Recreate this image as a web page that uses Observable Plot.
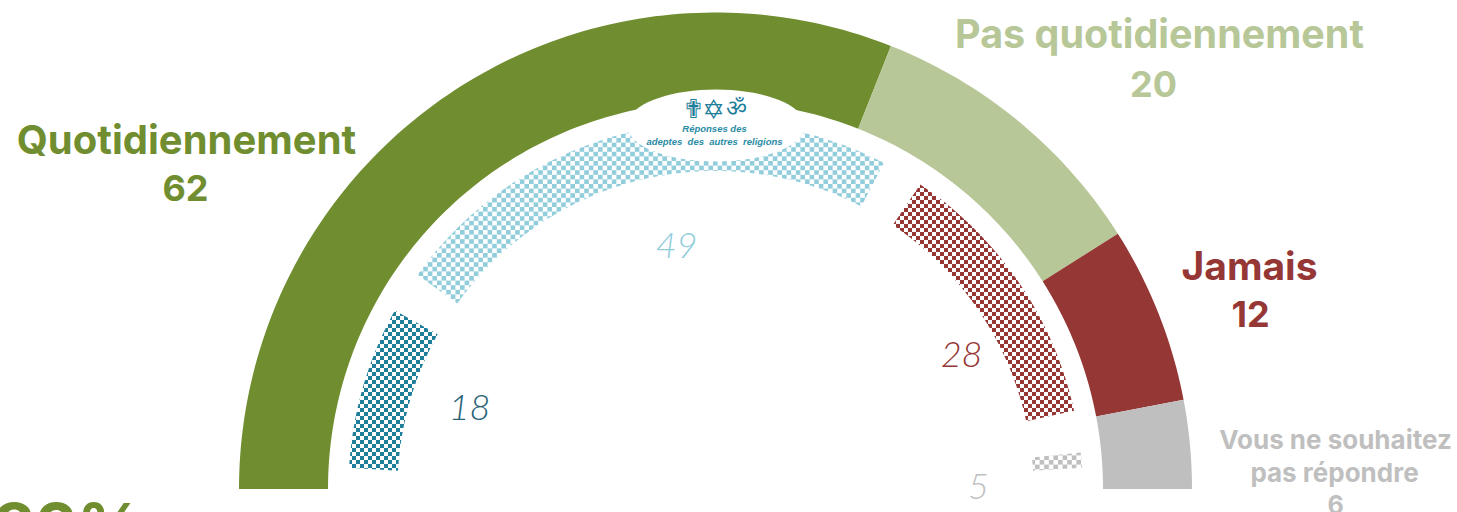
<!DOCTYPE html>
<html><head><meta charset="utf-8">
<script src="https://cdn.jsdelivr.net/npm/d3@7"></script>
<script src="https://cdn.jsdelivr.net/npm/@observablehq/plot@0.6"></script>
<style>html,body{margin:0;padding:0;background:#fff;overflow:hidden}svg{display:block}</style>
</head><body><div id="chart"></div>
<script>
const mainCategories = ["Quotidiennement","Pas quotidiennement","Jamais","Vous ne souhaitez pas répondre"];
const mainValues = [62,20,12,6];
const otherCategories = ["Quotidiennement (autres)","Pas quotidiennement (autres)","Jamais (autres)","Sans réponse (autres)"];
const otherValues = [18,49,28,5];
const mainColors = ["#708E30","#B7C797","#953735","#BFBFBF"];
const otherColors = ["url(#p0)","url(#p1)","url(#p2)","url(#p3)"];
const patternColors = ["#1F7F9B","#92CDDC","#953735","#BFBFBF"];

const W=1457,H=512;
function sectors(cats,vals,r0,r1,padDeg){
  const out=[];let cum=0;const total=d3.sum(vals);
  vals.forEach((v,i)=>{
    const a0=cum/total*180+padDeg,a1=(cum+v)/total*180-padDeg;cum+=v;
    const n=Math.max(8,Math.ceil(a1-a0));
    d3.range(n+1).forEach(k=>{
      const t=(a0+(a1-a0)*k/n)*Math.PI/180;
      out.push({cat:cats[i],x1:-r0*Math.cos(t),y1:r0*Math.sin(t),x2:-r1*Math.cos(t),y2:r1*Math.sin(t)});
    });
  });
  return out;
}
// unit ring: outer radius = 1
const outerRing=sectors(mainCategories,mainValues,387.5/476.5,1,0);
const innerRing=sectors(otherCategories,otherValues,318/476.5,367/476.5,3.3);
const ellipse=d3.range(73).map(k=>{const t=k*5*Math.PI/180;return {x:(89*Math.cos(t))/476.5,y:(364+36*Math.sin(t))/476.5};});

const G="Inter, sans-serif";
const label=(t,x,y,size,fill,o={})=>Plot.text([t],{text:d=>d,frameAnchor:"top-left",dx:x,dy:y,fontSize:size,fill,fontFamily:G,fontWeight:700,textAnchor:"middle",lineAnchor:"middle",...o});
const num=(t,x,y,fill)=>label(t,x,y,36,fill,{fontFamily:"Lato, sans-serif",fontWeight:300,fontStyle:"italic"});
const small=(t,x,y,o={})=>label(t,x,y,9.5,"#2A8BA5",{fontFamily:"Liberation Sans",fontStyle:"italic",...o});
const glyph=(t,x,y,size)=>label(t,x,y,size,patternColors[0],{fontFamily:"DejaVu Sans",fontWeight:400});

const chart=Plot.plot({
  width:W,height:H,margin:0,marginLeft:0,marginRight:0,marginTop:0,marginBottom:0,
  style:{background:"#fff"},
  x:{axis:null,domain:[-715.5/476.5,(W-715.5)/476.5],range:[0,W]},
  y:{axis:null,domain:[-(H-489)/476.5,489/476.5],range:[H,0]},
  color:{domain:[...mainCategories,...otherCategories],range:[...mainColors,...otherColors]},
  marks:[
    Plot.area(outerRing,{x1:"x1",y1:"y1",x2:"x2",y2:"y2",z:"cat",fill:"cat"}),
    Plot.area(innerRing,{x1:"x1",y1:"y1",x2:"x2",y2:"y2",z:"cat",fill:"cat"}),
    Plot.line(ellipse,{x:"x",y:"y",fill:"white",stroke:"none",curve:"linear-closed"}),
    label("Quotidiennement",186,141,40,mainColors[0]),
    label("62",185,189,36,mainColors[0]),
    label("Pas quotidiennement",1159,35,39.5,mainColors[1]),
    label("20",1153,85,36,mainColors[1]),
    label("Jamais",1249,267,39,mainColors[2]),
    label("12",1250,315,36,mainColors[2]),
    label("Vous ne souhaitez",1335,440,26,mainColors[3]),
    label("pas répondre",1334,473,26,mainColors[3]),
    label("6",1335,505,25,mainColors[3]),
    label("82%",68,529,66,mainColors[0]),
    num("18",469,408,"#2C6376"),
    num("49",676,246,patternColors[1]),
    num("28",961,355,"#953735"),
    num("5",978,487,"#BFBFBF"),
    glyph("✟",693,109,26),
    glyph("✡",713,110,27),
    glyph("ॐ",736,108,23),
    small("Réponses des",714,128),
    small("adeptes  des  autres  religions",714,141)
  ]
});
const ns="http://www.w3.org/2000/svg";
const defs=document.createElementNS(ns,"defs");
patternColors.forEach((c,i)=>{
  const s=i===1||i===3?4.6:4;
  const p=document.createElementNS(ns,"pattern");
  p.setAttribute("id","p"+i);p.setAttribute("patternUnits","userSpaceOnUse");
  p.setAttribute("width",2*s);p.setAttribute("height",2*s);
  [[0,0],[s,s]].forEach(([x,y])=>{const r=document.createElementNS(ns,"rect");
    r.setAttribute("x",x);r.setAttribute("y",y);r.setAttribute("width",s);r.setAttribute("height",s);r.setAttribute("fill",c);p.appendChild(r);});
  defs.appendChild(p);
});
chart.insertBefore(defs,chart.firstChild);
document.getElementById("chart").appendChild(chart);
</script></body></html>
